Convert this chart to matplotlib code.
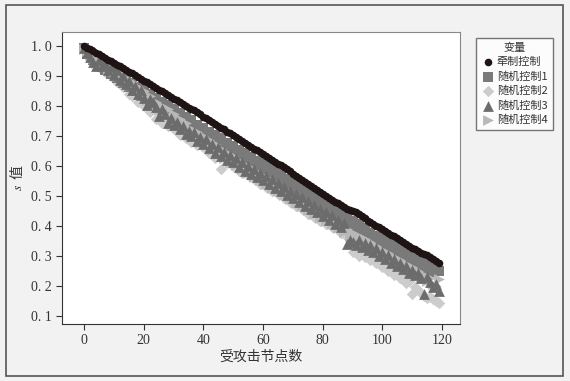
import matplotlib
matplotlib.use("Agg")
import matplotlib.pyplot as plt
from matplotlib.patches import Rectangle

plt.rcParams['font.family'] = ['Liberation Serif', 'Noto Sans CJK SC']
plt.rcParams['mathtext.fontset'] = 'stix'

# attacked node count
nodes = list(range(120))

pinning = [
    1.000, 0.995, 0.990, 0.984, 0.978, 0.972, 0.967, 0.961, 0.955, 0.949,
    0.943, 0.938, 0.932, 0.926, 0.920, 0.914, 0.909, 0.903, 0.897, 0.891,
    0.885, 0.879, 0.873, 0.867, 0.861, 0.855, 0.849, 0.843, 0.837, 0.831,
    0.825, 0.819, 0.813, 0.807, 0.801, 0.795, 0.790, 0.786, 0.779, 0.772,
    0.765, 0.759, 0.753, 0.747, 0.740, 0.734, 0.728, 0.722, 0.715, 0.709,
    0.703, 0.697, 0.690, 0.684, 0.677, 0.671, 0.665, 0.658, 0.652, 0.646,
    0.640, 0.633, 0.627, 0.620, 0.613, 0.606, 0.602, 0.597, 0.589, 0.582,
    0.575, 0.568, 0.561, 0.554, 0.547, 0.540, 0.533, 0.526, 0.519, 0.512,
    0.505, 0.499, 0.493, 0.487, 0.481, 0.476, 0.470, 0.464, 0.458, 0.452,
    0.449, 0.446, 0.439, 0.432, 0.425, 0.418, 0.412, 0.406, 0.400, 0.395,
    0.389, 0.383, 0.377, 0.371, 0.365, 0.359, 0.353, 0.346, 0.340, 0.334,
    0.328, 0.322, 0.316, 0.310, 0.305, 0.302, 0.296, 0.290, 0.284, 0.278,
]
random1 = [
    0.992, 0.975, 0.980, 0.955, 0.962, 0.935, 0.945, 0.920, 0.932, 0.908,
    0.918, 0.895, 0.910, 0.878, 0.892, 0.862, 0.878, 0.850, 0.862, 0.835,
    0.852, 0.825, 0.840, 0.808, 0.828, 0.795, 0.815, 0.780, 0.802, 0.772,
    0.790, 0.758, 0.778, 0.742, 0.765, 0.730, 0.752, 0.718, 0.738, 0.710,
    0.728, 0.700, 0.715, 0.682, 0.705, 0.672, 0.692, 0.660, 0.678, 0.648,
    0.668, 0.638, 0.655, 0.622, 0.642, 0.608, 0.630, 0.600, 0.618, 0.585,
    0.612, 0.578, 0.598, 0.562, 0.585, 0.550, 0.572, 0.535, 0.558, 0.528,
    0.542, 0.512, 0.532, 0.498, 0.518, 0.485, 0.508, 0.472, 0.492, 0.462,
    0.478, 0.448, 0.465, 0.432, 0.452, 0.420, 0.440, 0.408, 0.428, 0.398,
    0.418, 0.388, 0.405, 0.372, 0.392, 0.360, 0.378, 0.348, 0.365, 0.338,
    0.360, 0.328, 0.348, 0.315, 0.335, 0.302, 0.322, 0.292, 0.310, 0.282,
    0.300, 0.272, 0.288, 0.260, 0.278, 0.250, 0.268, 0.245, 0.255, 0.250,
]
random2 = [
    0.990, 0.975, 0.960, 0.968, 0.945, 0.930, 0.948, 0.915, 0.925, 0.900,
    0.910, 0.880, 0.895, 0.862, 0.870, 0.840, 0.835, 0.850, 0.812, 0.825,
    0.800, 0.815, 0.780, 0.790, 0.758, 0.775, 0.745, 0.760, 0.735, 0.750,
    0.722, 0.740, 0.705, 0.725, 0.695, 0.700, 0.680, 0.712, 0.670, 0.690,
    0.662, 0.680, 0.645, 0.668, 0.628, 0.650, 0.590, 0.632, 0.610, 0.625,
    0.600, 0.612, 0.585, 0.578, 0.598, 0.570, 0.582, 0.555, 0.565, 0.540,
    0.552, 0.530, 0.545, 0.518, 0.520, 0.505, 0.515, 0.492, 0.498, 0.480,
    0.490, 0.468, 0.478, 0.455, 0.462, 0.440, 0.452, 0.430, 0.438, 0.418,
    0.425, 0.408, 0.412, 0.395, 0.400, 0.385, 0.375, 0.388, 0.362, 0.372,
    0.312, 0.325, 0.300, 0.318, 0.295, 0.305, 0.285, 0.295, 0.275, 0.282,
    0.262, 0.270, 0.250, 0.258, 0.238, 0.245, 0.228, 0.232, 0.210, 0.218,
    0.172, 0.198, 0.185, 0.178, 0.168, 0.160, 0.162, 0.155, 0.150, 0.142,
]
random3 = [
    0.995, 0.978, 0.965, 0.948, 0.935, 0.955, 0.932, 0.945, 0.920, 0.930,
    0.905, 0.920, 0.888, 0.900, 0.872, 0.885, 0.855, 0.868, 0.840, 0.852,
    0.828, 0.805, 0.822, 0.812, 0.798, 0.768, 0.790, 0.775, 0.742, 0.760,
    0.738, 0.748, 0.722, 0.735, 0.708, 0.718, 0.700, 0.712, 0.685, 0.698,
    0.672, 0.690, 0.660, 0.675, 0.645, 0.662, 0.632, 0.648, 0.620, 0.638,
    0.612, 0.628, 0.598, 0.612, 0.585, 0.600, 0.575, 0.590, 0.562, 0.578,
    0.552, 0.568, 0.540, 0.555, 0.528, 0.542, 0.515, 0.530, 0.502, 0.518,
    0.492, 0.508, 0.480, 0.495, 0.468, 0.482, 0.455, 0.470, 0.445, 0.458,
    0.432, 0.448, 0.420, 0.435, 0.408, 0.420, 0.395, 0.410, 0.340, 0.352,
    0.345, 0.338, 0.352, 0.330, 0.342, 0.320, 0.335, 0.312, 0.325, 0.300,
    0.312, 0.290, 0.302, 0.278, 0.290, 0.265, 0.278, 0.255, 0.265, 0.242,
    0.252, 0.235, 0.242, 0.225, 0.172, 0.230, 0.212, 0.198, 0.205, 0.182,
]
random4 = [
    0.990, 0.982, 0.970, 0.960, 0.945, 0.958, 0.935, 0.948, 0.922, 0.935,
    0.918, 0.900, 0.912, 0.885, 0.895, 0.870, 0.880, 0.852, 0.865, 0.838,
    0.850, 0.820, 0.835, 0.805, 0.815, 0.790, 0.800, 0.772, 0.790, 0.760,
    0.772, 0.745, 0.758, 0.730, 0.742, 0.712, 0.725, 0.700, 0.715, 0.688,
    0.700, 0.672, 0.688, 0.655, 0.672, 0.640, 0.658, 0.628, 0.645, 0.615,
    0.632, 0.602, 0.618, 0.590, 0.605, 0.578, 0.592, 0.565, 0.580, 0.552,
    0.568, 0.540, 0.555, 0.528, 0.542, 0.515, 0.528, 0.502, 0.515, 0.490,
    0.502, 0.478, 0.490, 0.465, 0.478, 0.452, 0.465, 0.440, 0.452, 0.428,
    0.440, 0.418, 0.428, 0.405, 0.415, 0.392, 0.402, 0.380, 0.390, 0.365,
    0.378, 0.355, 0.368, 0.342, 0.355, 0.330, 0.345, 0.320, 0.332, 0.308,
    0.320, 0.298, 0.310, 0.285, 0.298, 0.272, 0.285, 0.262, 0.272, 0.250,
    0.262, 0.240, 0.250, 0.228, 0.238, 0.215, 0.225, 0.205, 0.200, 0.222,
]

names = ['牵制控制', '随机控制1', '随机控制2', '随机控制3', '随机控制4']
series = [pinning, random1, random2, random3, random4]
markers = ['o', 's', 'D', '^', '>']
colors = ['#1e1414', '#7a7a7a', '#cccccc', '#6c6c6c', '#b8b8b8']
sizes = [30, 44, 34, 60, 60]
zorders = [10, 3, 2, 4, 3]

yticks = [0.1, 0.2, 0.3, 0.4, 0.5, 0.6, 0.7, 0.8, 0.9, 1.0]
ytick_labels = ['0. 1', '0. 2', '0. 3', '0. 4', '0. 5', '0. 6', '0. 7', '0. 8', '0. 9', '1. 0']
xticks = [0, 20, 40, 60, 80, 100, 120]

fig = plt.figure(figsize=(5.70, 3.81), dpi=100)
fig.patch.set_facecolor('#f2f2f2')
fig.patches.append(Rectangle((6 / 570, 5 / 381), 557 / 570, 371 / 381,
                             transform=fig.transFigure, fill=False,
                             edgecolor='#555555', linewidth=1.2))

ax = fig.add_axes([62 / 570, 1 - 324 / 381, 398 / 570, 292 / 381])
ax.set_facecolor('white')

for vals, name, m, c, s, z in zip(series, names, markers, colors, sizes, zorders):
    ax.scatter(nodes, vals, marker=m, s=s, color=c, linewidths=0, label=name, zorder=z)

ax.set_xlim(-7.4, 126)
ax.set_ylim(0.073, 1.047)
ax.set_xticks(xticks)
ax.set_yticks(yticks)
ax.set_yticklabels(ytick_labels)
ax.tick_params(labelsize=10, colors='#333333', length=4, width=0.8)
for sp in ['left', 'bottom']:
    ax.spines[sp].set_color('#333333')
for sp in ['top', 'right']:
    ax.spines[sp].set_color('#888888')

ax.set_xlabel('受攻击节点数', fontsize=10, color='#333333',
              family=['Noto Sans CJK SC'], labelpad=2)
ax.set_ylabel('$s$  值', fontsize=10, color='#333333',
              family=['Noto Sans CJK SC', 'DejaVu Sans'], labelpad=4)

leg = fig.legend(loc='upper left', bbox_to_anchor=(470 / 570, 1 - 32 / 381),
                 title='变量', frameon=True, fancybox=False,
                 prop={'family': 'Noto Sans CJK SC', 'size': 8},
                 title_fontproperties={'family': 'Noto Sans CJK SC', 'size': 8},
                 handletextpad=0.2, borderpad=0.5, labelspacing=0.35,
                 handlelength=1.2, scatterpoints=1)
leg.get_frame().set_edgecolor('#555555')
leg.get_frame().set_linewidth(1.0)
for t in leg.get_texts():
    t.set_color('#333333')
leg.get_title().set_color('#333333')

fig.savefig('out.png', dpi=100, facecolor=fig.get_facecolor())
